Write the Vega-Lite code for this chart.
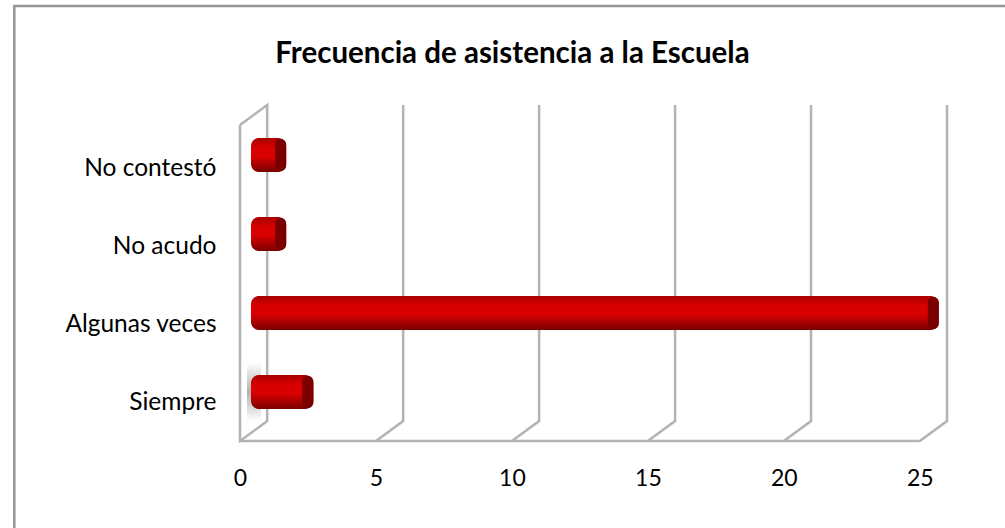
{
"$schema":"https://vega.github.io/schema/vega-lite/v6.json",
"autosize":{"type":"none"},
"padding":0,
"width":1005,"height":528,
"background":"white",
"view":{"stroke":null,"fill":"white"},
"title":{"text":"Frecuencia de asistencia a la Escuela","font":"Lato","fontWeight":"bold","fontSize":29.5,"color":"#000000","anchor":"middle","frame":"group","baseline":"top","offset":-69,"dx":10},
"datasets":{
"barras":[
{"categoria":"No contestó","inicio":0,"valor":1},
{"categoria":"No acudo","inicio":0,"valor":1},
{"categoria":"Algunas veces","inicio":0,"valor":25},
{"categoria":"Siempre","inicio":0,"valor":2}],
"marco":[{"x":28.5,"nivel":21.75},{"x":-8.3,"nivel":21.75},{"x":-8.3,"nivel":-5}],
"rejilla":[
{"linea":"pared","x":0,"nivel":15.8},{"linea":"pared","x":1,"nivel":16.8},{"linea":"pared","x":1,"nivel":1},{"linea":"pared","x":0,"nivel":0},{"linea":"pared","x":0,"nivel":15.8},
{"linea":"suelo","x":0,"nivel":0},{"linea":"suelo","x":25,"nivel":0},
{"linea":"g5","x":6,"nivel":16.8},{"linea":"g5","x":6,"nivel":1},{"linea":"g5","x":5,"nivel":0},
{"linea":"g10","x":11,"nivel":16.8},{"linea":"g10","x":11,"nivel":1},{"linea":"g10","x":10,"nivel":0},
{"linea":"g15","x":16,"nivel":16.8},{"linea":"g15","x":16,"nivel":1},{"linea":"g15","x":15,"nivel":0},
{"linea":"g20","x":21,"nivel":16.8},{"linea":"g20","x":21,"nivel":1},{"linea":"g20","x":20,"nivel":0},
{"linea":"g25","x":26,"nivel":16.8},{"linea":"g25","x":26,"nivel":1},{"linea":"g25","x":25,"nivel":0}]
},
"resolve":{"scale":{"y":"independent"},"axis":{"y":"independent"}},
"encoding":{
"x":{"field":"x","type":"quantitative","scale":{"domain":[0,26],"range":[240,947],"nice":false,"zero":false},
 "axis":{"values":[0,5,10,15,20,25],"title":null,"grid":false,"domain":false,"ticks":false,"labelFont":"Lato","labelFontSize":23,"labelColor":"#000000","labelPadding":-50,"labelBaseline":"middle","labelFlush":false,"format":"d"}}
},
"layer":[
{"data":{"name":"marco"},"mark":{"type":"line","color":"#969696","strokeWidth":2.5,"strokeJoin":"miter","clip":false},
 "encoding":{"order":{"field":"x","sort":"descending"},
 "y":{"field":"nivel","type":"quantitative","scale":{"domain":[0,16.8],"range":[441,105],"nice":false,"zero":false},"axis":null}}},
{"data":{"name":"rejilla"},"mark":{"type":"line","color":"#b3b3b3","strokeWidth":2.5,"strokeJoin":"miter"},
 "encoding":{"order":{"field":"orden"},
 "y":{"field":"nivel","type":"quantitative","scale":{"domain":[0,16.8],"range":[441,105],"nice":false,"zero":false},"axis":null},
 "detail":{"field":"linea"}}},
{"data":{"name":"barras"},"transform":[{"filter":"datum.categoria==='Siempre'"}],
 "mark":{"type":"bar","size":58,"xOffset":7,"x2Offset":21,"color":{"gradient":"linear","x1":0,"y1":0,"x2":0,"y2":1,"stops":[{"offset":0,"color":"#ffffff"},{"offset":0.5,"color":"#b0b0b0"},{"offset":1,"color":"#ffffff"}]}},
 "encoding":{"x":{"field":"inicio","type":"quantitative"},"x2":{"field":"inicio"},
 "y":{"field":"categoria","type":"nominal","scale":{"type":"point","padding":0,"domain":["No contestó","No acudo","Algunas veces","Siempre"],"range":[155,392]},"axis":null}}},
{"data":{"name":"barras"},
 "mark":{"type":"bar","size":34,"xOffset":11,"x2Offset":19,"cornerRadius":8,"color":{"gradient":"linear","x1":0,"y1":0,"x2":0,"y2":1,"stops":[{"offset":0,"color":"#a80000"},{"offset":0.3,"color":"#d80000"},{"offset":0.55,"color":"#d80000"},{"offset":1,"color":"#780000"}]}},
 "encoding":{"x":{"field":"inicio","type":"quantitative"},"x2":{"field":"valor"},
 "y":{"field":"categoria","type":"nominal","scale":{"type":"point","padding":0,"domain":["No contestó","No acudo","Algunas veces","Siempre"],"range":[155,392]},"axis":null}}},
{"data":{"name":"barras"},
 "mark":{"type":"bar","size":32,"xOffset":8,"x2Offset":19,"cornerRadius":5.5,"color":"#7a0000"},
 "encoding":{"x":{"field":"valor","type":"quantitative"},"x2":{"field":"valor"},
 "y":{"field":"categoria","type":"nominal","scale":{"type":"point","padding":0,"domain":["No contestó","No acudo","Algunas veces","Siempre"],"range":[155,392]},"axis":null}}},
{"data":{"name":"barras"},
 "mark":{"type":"text","opacity":0,"text":""},
 "encoding":{"x":{"field":"inicio","type":"quantitative"},
 "y":{"field":"categoria","type":"nominal","scale":{"type":"point","padding":0,"domain":["No contestó","No acudo","Algunas veces","Siempre"],"range":[168,402]},
 "axis":{"title":null,"domain":false,"ticks":false,"grid":false,"labelFont":"Lato","labelFontSize":24.5,"labelColor":"#000000","labelPadding":-216,"labelAlign":"right","labelBaseline":"middle"}}}}
]
}
